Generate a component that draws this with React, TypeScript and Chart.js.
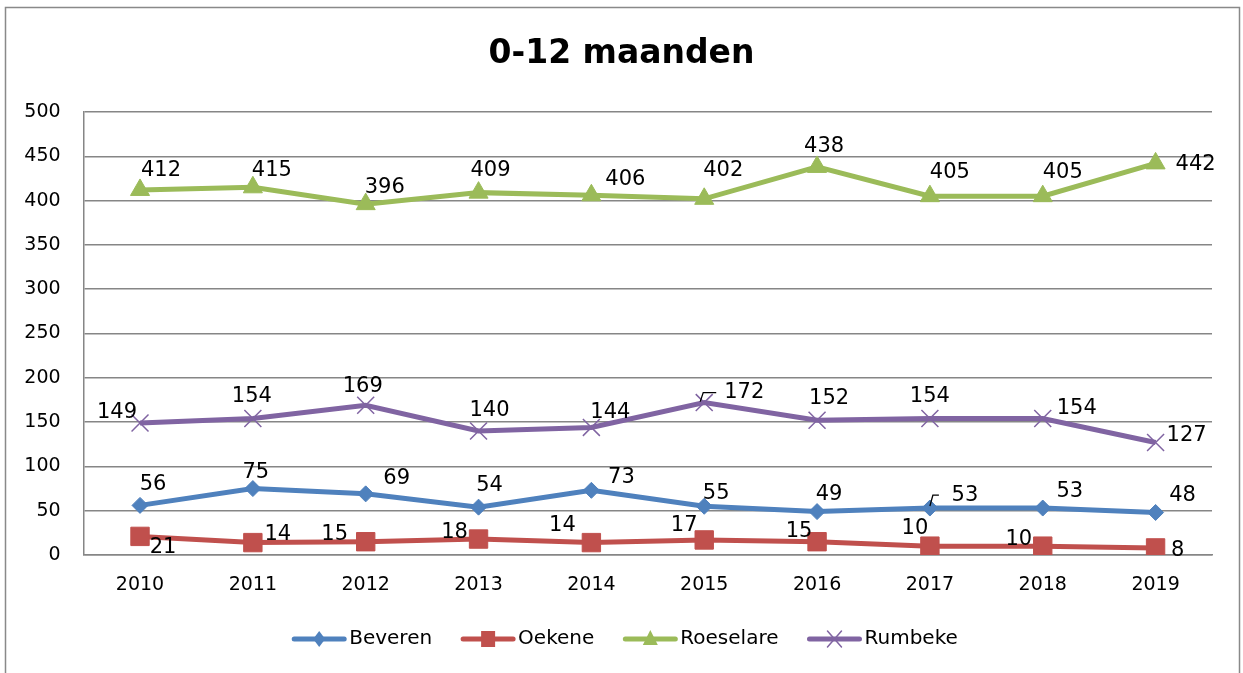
import React, { useEffect, useRef } from 'react';
import { Chart, registerables } from 'chart.js';

Chart.register(...registerables);

// ---------- data ----------
const TITLE = '0-12 maanden';
const YEARS = ['2010', '2011', '2012', '2013', '2014', '2015', '2016', '2017', '2018', '2019'];
const BEVEREN = [56, 75, 69, 54, 73, 55, 49, 53, 53, 48];
const OEKENE = [21, 14, 15, 18, 14, 17, 15, 10, 10, 8];
const ROESELARE = [412, 415, 396, 409, 406, 402, 438, 405, 405, 442];
const RUMBEKE = [149, 154, 169, 140, 144, 172, 152, 154, 154, 127];
const SERIES_NAMES = ['Beveren', 'Oekene', 'Roeselare', 'Rumbeke'];
const Y_MIN = 0;
const Y_MAX = 500;
const Y_STEP = 50;

// ---------- styles ----------
const COLORS = ['#4F81BD', '#C0504D', '#9BBB59', '#8064A2'];
const POINT_STYLES = ['rectRot', 'rect', 'triangle', 'crossRot'];
const POINT_RADII = [8, 13, 11, 12];
const GRID = '#868686';
const FONT = '"DejaVu Sans", sans-serif';

// data-label nudges in px, relative to each point (label centre)
const LABEL_NUDGE: number[][][] = [
  [[13, -21], [3, -16], [31, -15], [11, -22], [30, -13], [12, -13], [12, -17], [35, -12], [27, -16], [27, -17]],
  [[23, 11], [25, -8], [-31, -7], [-24, -7], [-29, -17], [-20, -14], [-18, -10], [-15, -18], [-24, -7], [22, 3]],
  [[21, -19], [19, -17], [19, -17], [12, -22], [34, -16], [19, -28], [7, -20], [20, -24], [20, -24], [40, 1]],
  [[-23, -10], [-1, -22], [-3, -19], [11, -20], [19, -15], [40, -10], [12, -22], [0, -22], [34, -10], [31, -7]],
];
// leader lines: [datasetIndex, pointIndex, path relative to the point]
const LEADERS: [number, number, number[][]][] = [
  [3, 5, [[-4, -1], [-1, -10], [12, -10]]],
  [0, 7, [[0, -2], [3, -13], [9, -13]]],
];

function drawMarker(ctx: CanvasRenderingContext2D, style: string, x: number, y: number, color: string) {
  ctx.save();
  ctx.fillStyle = color;
  ctx.strokeStyle = color;
  ctx.beginPath();
  if (style === 'rectRot') {
    ctx.moveTo(x, y - 8);
    ctx.lineTo(x + 6, y);
    ctx.lineTo(x, y + 8);
    ctx.lineTo(x - 6, y);
    ctx.closePath();
    ctx.fill();
  } else if (style === 'rect') {
    ctx.rect(x - 7, y - 8, 14, 16);
    ctx.fill();
  } else if (style === 'triangle') {
    ctx.moveTo(x, y - 9);
    ctx.lineTo(x + 7.5, y + 6);
    ctx.lineTo(x - 7.5, y + 6);
    ctx.closePath();
    ctx.fill();
  } else {
    ctx.lineWidth = 1.5;
    ctx.moveTo(x - 7, y - 8);
    ctx.lineTo(x + 7, y + 8);
    ctx.moveTo(x + 7, y - 8);
    ctx.lineTo(x - 7, y + 8);
    ctx.stroke();
  }
  ctx.restore();
}

const decorPlugin = {
  id: 'decor',
  beforeDraw(chart: any) {
    const ctx = chart.ctx as CanvasRenderingContext2D;
    ctx.save();
    ctx.fillStyle = '#ffffff';
    ctx.fillRect(0, 0, chart.width, chart.height);
    ctx.strokeStyle = '#898989';
    ctx.lineWidth = 1.5;
    ctx.strokeRect(5.5, 7.5, 1234, 700);
    ctx.restore();
  },
  afterDatasetsDraw(chart: any) {
    const ctx = chart.ctx as CanvasRenderingContext2D;
    ctx.save();
    // leader lines
    ctx.strokeStyle = '#000000';
    ctx.lineWidth = 1.3;
    LEADERS.forEach(([di, pi, path]) => {
      const pt = chart.getDatasetMeta(di).data[pi];
      ctx.beginPath();
      path.forEach(([dx, dy], k) => {
        if (k === 0) ctx.moveTo(pt.x + dx, pt.y + dy);
        else ctx.lineTo(pt.x + dx, pt.y + dy);
      });
      ctx.stroke();
    });
    // data labels
    ctx.font = '21px ' + FONT;
    ctx.fillStyle = '#000000';
    ctx.textAlign = 'center';
    ctx.textBaseline = 'middle';
    chart.data.datasets.forEach((ds: any, di: number) => {
      const meta = chart.getDatasetMeta(di);
      meta.data.forEach((pt: any, i: number) => {
        const [dx, dy] = LABEL_NUDGE[di][i];
        ctx.fillText(String(ds.data[i]), pt.x + dx, pt.y + dy);
      });
    });
    ctx.restore();
  },
  afterDraw(chart: any) {
    const ctx = chart.ctx as CanvasRenderingContext2D;
    ctx.save();
    // title
    ctx.font = 'bold 33px ' + FONT;
    ctx.fillStyle = '#000000';
    ctx.textAlign = 'center';
    ctx.textBaseline = 'middle';
    ctx.fillText(TITLE, 621.5, 54);
    // legend
    ctx.font = '20px ' + FONT;
    const lineLen = 54;
    const gapText = 3;
    const gapItem = 29;
    const widths = SERIES_NAMES.map((n) => ctx.measureText(n).width);
    const total = widths.reduce((a, w) => a + lineLen + gapText + w, 0) + gapItem * (SERIES_NAMES.length - 1);
    let x = 625 - total / 2;
    const y = 639;
    SERIES_NAMES.forEach((name, i) => {
      ctx.strokeStyle = COLORS[i];
      ctx.lineWidth = 5;
      ctx.lineCap = 'round';
      ctx.beginPath();
      ctx.moveTo(x + 2, y);
      ctx.lineTo(x + lineLen - 2, y);
      ctx.stroke();
      drawMarker(ctx, POINT_STYLES[i], x + lineLen / 2, y, COLORS[i]);
      ctx.fillStyle = '#000000';
      ctx.textAlign = 'left';
      ctx.fillText(name, x + lineLen + gapText, y);
      x += lineLen + gapText + widths[i] + gapItem;
    });
    ctx.restore();
  },
};

export default function App() {
  const ref = useRef<HTMLCanvasElement | null>(null);

  useEffect(() => {
    document.body.style.margin = '0';
    const canvas = ref.current;
    if (!canvas) return;
    const seriesData = [BEVEREN, OEKENE, ROESELARE, RUMBEKE];
    const chart = new Chart(canvas, {
      type: 'line',
      data: {
        labels: YEARS,
        datasets: seriesData.map((d, i) => ({
          label: SERIES_NAMES[i],
          data: d,
          borderColor: COLORS[i],
          backgroundColor: COLORS[i],
          borderWidth: 5,
          tension: 0,
          pointStyle: POINT_STYLES[i] as any,
          pointRadius: POINT_RADII[i],
          pointHoverRadius: POINT_RADII[i],
          pointBackgroundColor: COLORS[i],
          pointBorderColor: COLORS[i],
          pointBorderWidth: i === 3 ? 1.5 : 1,
        })),
      },
      options: {
        responsive: false,
        animation: false,
        devicePixelRatio: 1,
        layout: { padding: { top: 112, left: 0, right: 31, bottom: 68 } },
        plugins: {
          legend: { display: false },
          title: { display: false },
          tooltip: { enabled: false },
        },
        scales: {
          x: {
            type: 'category',
            offset: true,
            grid: { display: false, drawTicks: false },
            border: { display: true, color: GRID, width: 1.5 },
            ticks: { color: '#000000', font: { family: FONT, size: 19 }, padding: 19, maxRotation: 0 },
            afterFit: (s: any) => { s.height = 50; },
          },
          y: {
            min: Y_MIN,
            max: Y_MAX,
            grid: { color: GRID, lineWidth: 1.5, drawTicks: false },
            border: { display: true, color: GRID, width: 1.5 },
            ticks: { stepSize: Y_STEP, color: '#000000', font: { family: FONT, size: 19 }, padding: 23 },
            afterFit: (s: any) => { s.width = 83.6; },
          },
        },
      },
      plugins: [decorPlugin],
    });
    return () => chart.destroy();
  }, []);

  return <canvas ref={ref} width={1243} height={673} style={{ display: 'block' }} />;
}
